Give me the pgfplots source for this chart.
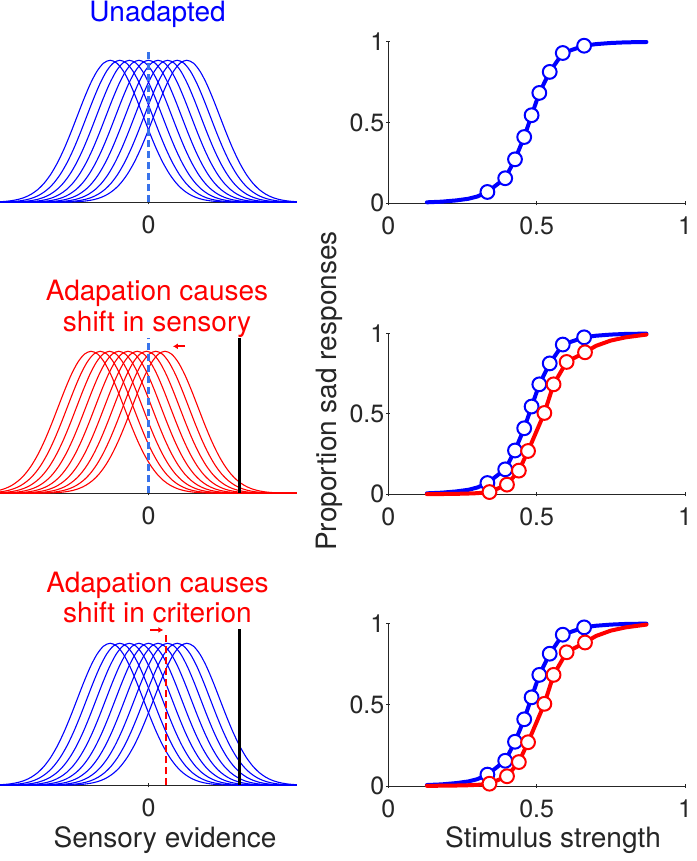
\documentclass[border=0pt]{standalone}
\usepackage{fontspec}
\setmainfont{TeX Gyre Heros}
\usepackage{pgfplots}
\pgfplotsset{compat=1.18}
\usepackage{pgfplotstable}
\usetikzlibrary{arrows.meta}
\definecolor{axgray}{rgb}{0.15,0.15,0.15}
\definecolor{dblue}{rgb}{0.22,0.45,0.92}
\definecolor{pblue}{rgb}{0,0,1}
\definecolor{pred}{rgb}{1,0,0}

% base Gaussian shape (unit sd), shifted for each curve
\pgfplotstableread{
x y
-6.4 0
-4.2 0.00015
-4.0 0.00034
-3.8 0.00073
-3.6 0.00153
-3.4 0.00309
-3.2 0.00598
-3.0 0.01111
-2.8 0.01984
-2.6 0.03405
-2.4 0.05613
-2.2 0.08892
-2.0 0.13534
-1.8 0.19790
-1.6 0.27804
-1.4 0.37531
-1.2 0.48675
-1.0 0.60653
-0.8 0.72615
-0.6 0.83527
-0.4 0.92312
-0.2 0.98020
0 1
0.2 0.98020
0.4 0.92312
0.6 0.83527
0.8 0.72615
1.0 0.60653
1.2 0.48675
1.4 0.37531
1.6 0.27804
1.8 0.19790
2.0 0.13534
2.2 0.08892
2.4 0.05613
2.6 0.03405
2.8 0.01984
3.0 0.01111
3.2 0.00598
3.4 0.00309
3.6 0.00153
3.8 0.00073
4.0 0.00034
4.2 0.00015
6.4 0
}\gauss

\pgfplotstableread{
x y
0.13 0.006
0.18 0.010
0.23 0.018
0.27 0.028
0.30 0.042
0.334 0.070
0.394 0.155
0.427 0.272
0.458 0.410
0.483 0.545
0.509 0.683
0.544 0.813
0.588 0.930
0.660 0.975
0.70 0.985
0.75 0.992
0.80 0.996
0.87 0.998
}\blueline

\pgfplotstableread{
x y
0.334 0.070
0.394 0.155
0.427 0.272
0.458 0.410
0.483 0.545
0.509 0.683
0.544 0.813
0.588 0.930
0.660 0.975
}\bluedata

\pgfplotstableread{
x y
0.13 0.001
0.20 0.002
0.26 0.004
0.30 0.007
0.341 0.014
0.400 0.060
0.440 0.147
0.471 0.269
0.526 0.505
0.557 0.683
0.601 0.822
0.663 0.882
0.70 0.922
0.75 0.955
0.80 0.975
0.87 0.992
}\redline

\pgfplotstableread{
x y
0.341 0.014
0.400 0.060
0.440 0.147
0.471 0.269
0.526 0.505
0.557 0.683
0.601 0.822
0.663 0.882
}\reddata

\pgfplotsset{
  basestyle/.style={scale only axis,
    axis line style={draw=axgray, line width=0.9pt},
    tick style={draw=axgray, line width=0.9pt},
    tick align=inside, major tick length=4pt,
    ticklabel style={font=\fontsize{25}{30}\selectfont, text=axgray},
    /pgf/number format/assume math mode=true},
  rightax/.style={basestyle, width=296.7pt,
    xmin=0, xmax=1, ymin=0, ymax=1,
    axis x line=bottom, axis y line=left, axis line style={-},
    xtick={0,0.5,1}, ytick={0,0.5,1}, clip=false,
    xticklabel style={yshift=-8pt}, yticklabel style={xshift=1.5pt}},
  leftax/.style={basestyle, width=297pt, height=163.3pt,
    xmin=-4.5, xmax=4.5, ymin=0, ymax=1.15,
    axis x line=bottom, axis y line=none, axis line style={-},
    xtick={0}, ytick=\empty, xticklabel style={yshift=-8pt}},
  gb/.style={pblue, line width=1.1pt, smooth},
  gr/.style={pred, line width=1.1pt, smooth},
  pline/.style={line width=4pt, line join=round, line cap=round},
  pmark/.style={only marks, mark=*, mark size=6.9pt, mark options={fill=white, line width=2pt}},
}

\begin{document}
\begin{tikzpicture}
\path[use as bounding box] (0,0) rectangle (696pt,861pt);

% ---------- left top ----------
\begin{axis}[leftax, at={(0pt,658.7pt)}, anchor=south west]
\pgfplotsinvokeforeach{-1.16,-0.87,-0.58,-0.29,0,0.29,0.58,0.87,1.16}{
  \addplot[gb] table[x expr=\thisrow{x}+(#1), y=y]{\gauss};
}
\addplot[dblue, line width=2.8pt, dash pattern=on 7pt off 4pt] coordinates {(0,0) (0,1.08)};
\end{axis}

% ---------- left middle ----------
\begin{axis}[leftax, at={(0pt,367.7pt)}, anchor=south west]
\pgfplotsinvokeforeach{-1.74,-1.46,-1.18,-0.90,-0.62,-0.34,-0.06,0.22,0.50}{
  \addplot[gr] table[x expr=\thisrow{x}+(#1), y=y]{\gauss};
}
\addplot[dblue, line width=2.8pt, dash pattern=on 7pt off 4pt] coordinates {(0,0) (0,1.095)};
\addplot[black, line width=3pt] coordinates {(2.75,0) (2.75,1.095)};
\draw[pred, line width=2pt, -{Latex[length=5pt,width=6pt]}] (axis cs:1.11,1.035) -- (axis cs:0.74,1.035);
\end{axis}

% ---------- left bottom ----------
\begin{axis}[leftax, at={(0pt,75.7pt)}, anchor=south west]
\pgfplotsinvokeforeach{-1.16,-0.87,-0.58,-0.29,0,0.29,0.58,0.87,1.16}{
  \addplot[gb] table[x expr=\thisrow{x}+(#1), y=y]{\gauss};
}
\addplot[black, line width=3pt] coordinates {(2.75,0) (2.75,1.10)};
\addplot[pred, line width=2.8pt, dash pattern=on 7pt off 4pt] coordinates {(0.53,0) (0.53,1.08)};
\draw[pred, line width=2pt, -{Latex[length=5pt,width=6pt]}] (axis cs:0.05,1.094) -- (axis cs:0.45,1.094);
\end{axis}

% ---------- right top ----------
\begin{axis}[rightax, height=161.6pt, at={(388.3pt,657.7pt)}, anchor=south west]
\addplot[pline, pblue] table{\blueline};
\addplot[pmark, pblue] table{\bluedata};
\end{axis}

% ---------- right middle ----------
\begin{axis}[rightax, height=161pt, at={(388.3pt,366.7pt)}, anchor=south west]
\addplot[pline, pblue] table{\blueline};
\addplot[pmark, pblue] table{\bluedata};
\addplot[pline, pred] table{\redline};
\addplot[pmark, pred] table{\reddata};
\end{axis}

% ---------- right bottom ----------
\begin{axis}[rightax, height=162.7pt, at={(388.3pt,75pt)}, anchor=south west]
\addplot[pline, pblue] table{\blueline};
\addplot[pmark, pblue] table{\bluedata};
\addplot[pline, pred] table{\redline};
\addplot[pmark, pred] table{\reddata};
\end{axis}

% ---------- texts ----------
\node[anchor=base, text=pblue, font=\fontsize{28}{33}\selectfont] at (157.5pt,839pt) {Unadapted};
\node[anchor=base, text=pred, font=\fontsize{28}{33}\selectfont] at (157pt,560pt) {Adapation causes};
\node[anchor=base, text=pred, font=\fontsize{28}{33}\selectfont] at (157pt,529.3pt) {shift in sensory};
\node[anchor=base, text=pred, font=\fontsize{28}{33}\selectfont] at (157.5pt,268.3pt) {Adapation causes};
\node[anchor=base, text=pred, font=\fontsize{28}{33}\selectfont] at (157.5pt,238.3pt) {shift in criterion};
\node[anchor=base, text=axgray, font=\fontsize{28}{33}\selectfont] at (165pt,13pt) {Sensory evidence};
\node[anchor=base, text=axgray, font=\fontsize{28}{33}\selectfont] at (553pt,13pt) {Stimulus strength};
\node[anchor=base, rotate=90, text=axgray, font=\fontsize{28}{33}\selectfont] at (336pt,470pt) {Proportion sad responses};
\end{tikzpicture}
\end{document}
